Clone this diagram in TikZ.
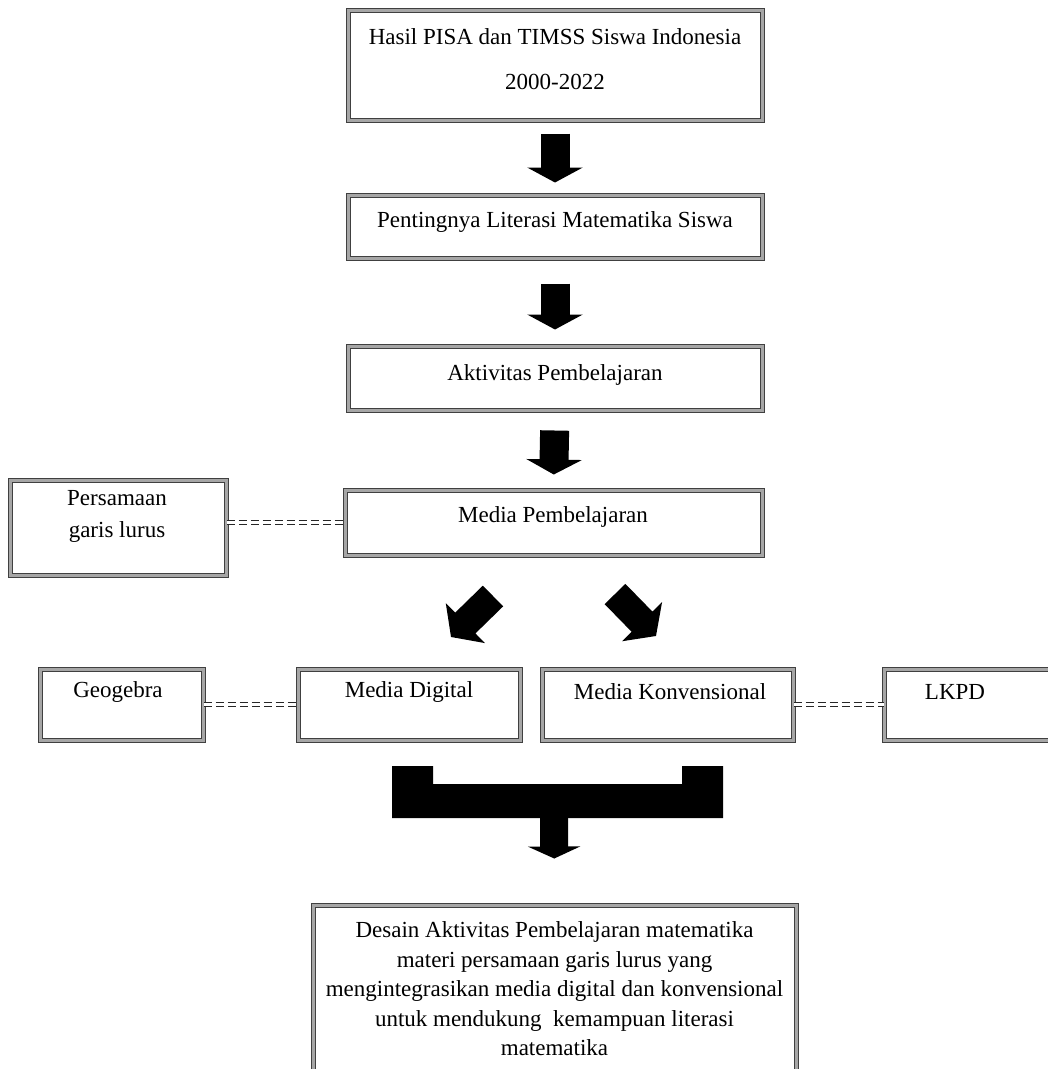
\documentclass[tikz,border=0pt]{standalone}
\usepackage{fontspec}
\setmainfont{Liberation Serif}
\usetikzlibrary{arrows.meta}
\begin{document}
\begin{tikzpicture}[x=1pt,y=-1pt,
  box/.style={draw=black!75, line width=1pt, double=gray!70, double distance=3pt, fill=white, inner sep=0pt},
  txt/.style={font=\fontsize{23}{28}\selectfont, align=center, inner sep=0pt},
  fat/.style={line width=29pt, -{Triangle[length=15pt,width=55pt]}},
  dbl/.style={draw=black!85, line width=1.4pt, double=white, double distance=2.2pt, dash pattern=on 8pt off 4pt}
]
\useasboundingbox (0,0) rectangle (1048,1069);

% boxes
\node[box, minimum width=414pt, minimum height=110pt] (b1) at (555,65) {};
\node[box, minimum width=414pt, minimum height=63pt] (b2) at (555,226.5) {};
\node[box, minimum width=414pt, minimum height=64pt] (b3) at (555,378) {};
\node[box, minimum width=417pt, minimum height=65pt] (mp) at (553.5,522.5) {};
\node[box, minimum width=216pt, minimum height=95pt] (ps) at (118,527.5) {};
\node[box, minimum width=163pt, minimum height=71pt] (geo) at (121.5,704.5) {};
\node[box, minimum width=222pt, minimum height=71pt] (md) at (409,704.5) {};
\node[box, minimum width=251pt, minimum height=71pt] (mk) at (667.5,704.5) {};
\node[box, minimum width=168pt, minimum height=71pt] (lk) at (968,704.5) {};
\node[box, minimum width=483pt, minimum height=180pt] (fin) at (554.5,995) {};

% texts
\node[txt, font=\fontsize{23}{45}\selectfont] (t1) at (555,59) {Hasil PISA dan TIMSS Siswa Indonesia\\2000-2022};
\node[txt] (t2) at (555,222) {Pentingnya Literasi Matematika Siswa};
\node[txt] (t3) at (555,375) {Aktivitas Pembelajaran};
\node[txt] (tmp) at (553,517) {Media Pembelajaran};
\node[txt, font=\fontsize{23}{32}\selectfont] (tps) at (117,516) {Persamaan\\garis lurus};
\node[txt] (tgeo) at (118,692) {Geogebra};
\node[txt] (tmd) at (409,692) {Media Digital};
\node[txt] (tmk) at (670,692) {Media Konvensional};
\node[txt] (tlk) at (955,692) {LKPD};
\node[txt, font=\fontsize{23}{29.5}\selectfont] (tfin) at (554.5,989) {Desain Aktivitas Pembelajaran matematika\\materi persamaan garis lurus yang\\mengintegrasikan media digital dan konvensional\\untuk mendukung\ \ kemampuan literasi\\matematika};

% dashed double connectors
\draw[dbl] (ps.east |- mp.west) -- (mp.west);
\draw[dbl] (geo.east) -- (md.west);
\draw[dbl] (mk.east) -- (lk.west);

% fat vertical arrows
\draw[fat, shorten <=13pt, shorten >=12pt] (b1.south) -- (b2.north);
\draw[fat, shorten <=25pt, shorten >=16pt] (b2.south) -- (b3.north);
\draw[fat, shorten <=20pt, shorten >=15pt] (b3.south) -- (mp.north);

% diagonal arrows
\coordinate (dl1) at (493,596);
\coordinate (dl2) at (451,637);
\coordinate (dr1) at (615,594);
\coordinate (dr2) at (656,636);
\draw[fat, -{Triangle[length=20pt,width=55pt]}] (dl1) -- (dl2);
\draw[fat, -{Triangle[length=20pt,width=55pt]}] (dr1) -- (dr2);

% bracket and final arrow
\fill (392,766) -- (433,766) -- (433,784) -- (682,784) -- (682,766) -- (723,766) -- (723,818) -- (392,818) -- cycle;
\coordinate (brk) at (554,815);
\draw[line width=28pt, -{Triangle[length=12pt,width=52pt]}, shorten >=46pt] (brk) -- (fin.north);
\end{tikzpicture}
\end{document}
